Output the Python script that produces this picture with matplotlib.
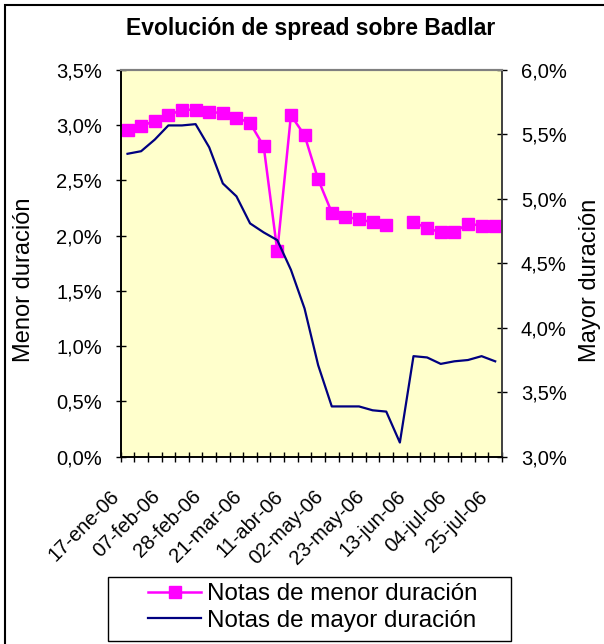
import numpy as np
import matplotlib.pyplot as plt
from matplotlib.patches import Rectangle
from matplotlib.ticker import FuncFormatter, FixedLocator
from matplotlib.transforms import ScaledTranslation

plt.rcParams['font.family'] = ['Liberation Sans', 'DejaVu Sans']

fechas = ['17-ene-06', '24-ene-06', '31-ene-06', '07-feb-06', '14-feb-06', '21-feb-06',
          '28-feb-06', '07-mar-06', '14-mar-06', '21-mar-06', '28-mar-06', '04-abr-06',
          '11-abr-06', '18-abr-06', '25-abr-06', '02-may-06', '09-may-06', '16-may-06',
          '23-may-06', '30-may-06', '06-jun-06', '13-jun-06', '20-jun-06', '27-jun-06',
          '04-jul-06', '11-jul-06', '18-jul-06', '25-jul-06']

menor = [2.96, 2.99, 3.04, 3.09, 3.14, 3.14, 3.12, 3.11, 3.07, 3.02, 2.81, 1.86,
         3.09, 2.91, 2.51, 2.21, 2.17, 2.15, 2.12, 2.10, np.nan, 2.12, 2.07, 2.03,
         2.03, 2.11, 2.09, 2.09]

mayor = [5.35, 5.37, 5.46, 5.57, 5.57, 5.58, 5.40, 5.12, 5.02, 4.81, 4.74, 4.68,
         4.45, 4.15, 3.71, 3.39, 3.39, 3.39, 3.36, 3.35, 3.11, 3.78, 3.77, 3.72,
         3.74, 3.75, 3.78, 3.74]

W, H = 604, 644
fig = plt.figure(figsize=(W / 100, H / 100), dpi=100)

# marco exterior del grafico
fig.patches.append(Rectangle((5 / W, -0.1), 1.2, 1 - 5 / H + 0.1, transform=fig.transFigure,
                             fill=False, edgecolor='black', linewidth=1.5))

ax = fig.add_axes([120.7 / W, 1 - 456.7 / H, (502 - 120.7) / W, (456.7 - 70) / H])
ax.set_facecolor('#FFFFCC')
x = np.arange(len(fechas))

l1, = ax.plot(x, menor, color='#FF00FF', linewidth=1.8, marker='s', markersize=8.5,
              label='Notas de menor duración')
ax.set_ylim(0, 3.5)
ax.set_xlim(-0.5, len(fechas) - 0.5)
ax.set_yticks(np.arange(0, 3.51, 0.5))

ax2 = ax.twinx()
l2, = ax2.plot(x, mayor, color='#000080', linewidth=1.6, label='Notas de mayor duración')
ax2.set_ylim(3.0, 6.0)
ax2.set_yticks(np.arange(3.0, 6.01, 0.5))

fmt = FuncFormatter(lambda v, p: ('%.1f%%' % v).replace('.', ','))
ax.yaxis.set_major_formatter(fmt)
ax2.yaxis.set_major_formatter(fmt)

# ticks entre categorias, etiquetas cada tres semanas
ax.xaxis.set_major_locator(FixedLocator(np.arange(-0.5, len(fechas), 1.0)))
ax.set_xticklabels([])
ax.xaxis.set_minor_locator(FixedLocator(x[::3]))
ax.set_xticklabels([fechas[i] for i in x[::3]], minor=True, rotation=45, ha='right',
                   va='center', rotation_mode='anchor', fontsize=14.5)
ax.tick_params(axis='x', which='minor', length=0, pad=0)
off = ScaledTranslation(-11 / 100, -37 / 100, fig.dpi_scale_trans)
for lab in ax.get_xticklabels(minor=True):
    lab.set_transform(lab.get_transform() + off)
ax.tick_params(axis='x', which='major', direction='inout', length=7, width=1)
ax.tick_params(axis='y', direction='inout', length=7, width=1, labelsize=14.5, pad=10)
ax2.tick_params(axis='y', direction='inout', length=7, width=1, labelsize=14.5, pad=10)

for a in (ax, ax2):
    a.spines['top'].set_color('#808080')
    a.spines['top'].set_linewidth(1.5)
    a.spines['left'].set_linewidth(1.2)
    a.spines['bottom'].set_linewidth(1.2)
    a.spines['right'].set_color('#404040')
    a.spines['right'].set_linewidth(1.2)

fig.text(311 / W, 1 - 28 / H, 'Evolución de spread sobre Badlar', ha='center', va='center',
         fontsize=16.5, fontweight='bold')
fig.text(24 / W, 1 - 280 / H, 'Menor duración', rotation=90, ha='center', va='center', fontsize=17)
fig.text(590 / W, 1 - 280 / H, 'Mayor duración', rotation=90, ha='center', va='center', fontsize=17)

# leyenda
fig.patches.append(Rectangle((107.7 / W, 1 - 641 / H), (511 - 107.7) / W, (641 - 577) / H,
                             transform=fig.transFigure, fill=False, edgecolor='black',
                             linewidth=1))
fig.legend([l1, l2], ['Notas de menor duración', 'Notas de mayor duración'],
           loc='upper left', bbox_to_anchor=(148 / W, 1 - 583 / H), frameon=False,
           fontsize=17.4, handlelength=2.2, handletextpad=0.25, labelspacing=0.2,
           borderpad=0, borderaxespad=0)

fig.savefig('out.png', dpi=100)
